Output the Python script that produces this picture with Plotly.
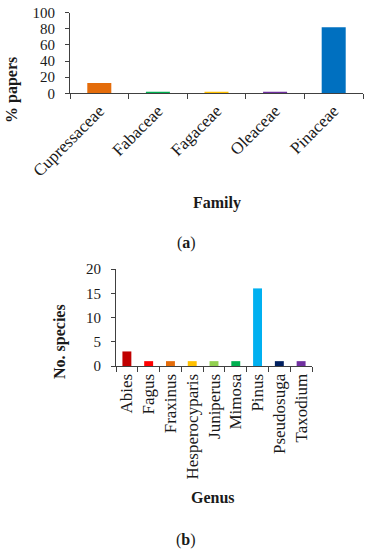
import plotly.graph_objects as go

families = ["Cupressaceae", "Fabaceae", "Fagaceae", "Oleaceae", "Pinaceae"]
pct_papers = [12.7, 1.8, 1.8, 1.8, 81.8]
family_colors = ["#E46C0A", "#00B050", "#FFC000", "#7030A0", "#0070C0"]

genera = ["Abies", "Fagus", "Fraxinus", "Hesperocyparis", "Juniperus",
          "Mimosa", "Pinus", "Pseudosuga", "Taxodium"]
n_species = [3, 1, 1, 1, 1, 1, 16, 1, 1]
genus_colors = ["#C00000", "#FF0000", "#E46C0A", "#FFC000", "#92D050",
                "#00B050", "#00B0F0", "#002060", "#7030A0"]

W, H = 373, 550
FONT = "Liberation Serif, Times New Roman, serif"
TXT = "#1a1a1a"
LINE = "#404040"

def px_x(x):
    return x / W

def px_y(y):
    return 1 - y / H

fig = go.Figure()
fig.add_trace(go.Bar(x=families, y=pct_papers, marker=dict(color=family_colors, line=dict(width=0)),
                     xaxis="x", yaxis="y", showlegend=False))
fig.add_trace(go.Bar(x=genera, y=n_species, marker=dict(color=genus_colors, line=dict(width=0)),
                     xaxis="x2", yaxis="y2", showlegend=False))

numfont = dict(family=FONT, size=15, color=TXT)
catfont = dict(family=FONT, size=17, color=TXT)
common_x = dict(type="category", showline=True, linecolor=LINE, linewidth=1, ticks="outside",
                tickson="boundaries", ticklen=5, tickcolor=LINE, showgrid=False,
                tickfont=catfont, zeroline=False, automargin=False)
common_y = dict(showline=True, linecolor=LINE, linewidth=1, ticks="outside", ticklen=4,
                tickcolor=LINE, showgrid=False, zeroline=False, tickfont=numfont,
                automargin=False, ticklabelstandoff=7)

fig.update_layout(
    template="none",
    width=W, height=H,
    margin=dict(l=0, r=0, t=0, b=0, pad=0),
    paper_bgcolor="white", plot_bgcolor="white",
    bargap=0.59,
    xaxis=dict(domain=[px_x(70), px_x(363)], anchor="y", tickangle=-45, **common_x),
    yaxis=dict(domain=[px_y(93.3), px_y(12.7)], anchor="x", range=[0, 100], dtick=20, **common_y),
    xaxis2=dict(domain=[px_x(116), px_x(312)], anchor="y2", tickangle=-90, **common_x),
    yaxis2=dict(domain=[px_y(366), px_y(269)], anchor="x2", range=[0, 20], dtick=5, **common_y),
)

title_font = dict(family=FONT, size=16, color=TXT)
annotations = [
    dict(text="<b>% papers</b>", x=px_x(12), y=px_y(90), textangle=-90),
    dict(text="<b>Family</b>", x=px_x(217), y=px_y(203)),
    dict(text="(<b>a</b>)", x=px_x(186), y=px_y(243)),
    dict(text="<b>No. species</b>", x=px_x(60), y=px_y(342), textangle=-90),
    dict(text="<b>Genus</b>", x=px_x(213), y=px_y(497)),
    dict(text="(<b>b</b>)", x=px_x(186), y=px_y(540)),
]
for a in annotations:
    fig.add_annotation(xref="paper", yref="paper", showarrow=False, font=title_font,
                       xanchor="center", yanchor="middle", **a)

fig.write_html("out.html", config={"displayModeBar": False, "staticPlot": True},
               post_script="document.body.style.margin='0';")
